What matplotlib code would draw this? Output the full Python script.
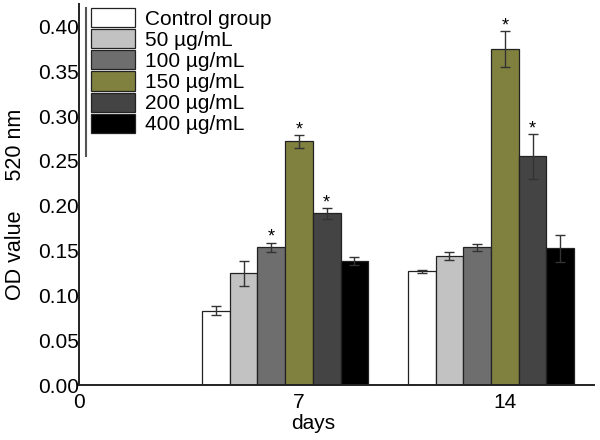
import numpy as np
import matplotlib.pyplot as plt

plt.rcParams['font.family'] = ['Liberation Sans', 'DejaVu Sans']

# dados
days = ['0', '7', '14']
groups = ['Control group', '50 µg/mL', '100 µg/mL', '150 µg/mL', '200 µg/mL', '400 µg/mL']
colors = ['#ffffff', '#c2c2c2', '#6e6e6e', '#80803f', '#444444', '#000000']

# valores para os dias 7 e 14
control = [0.083, 0.1266]
c50 = [0.1247, 0.1438]
c100 = [0.1536, 0.1536]
c150 = [0.2716, 0.3745]
c200 = [0.1913, 0.255]
c400 = [0.1379, 0.1525]
means = [control, c50, c100, c150, c200, c400]

control_err = [0.0047, 0.0012]
c50_err = [0.014, 0.0043]
c100_err = [0.005, 0.0037]
c150_err = [0.007, 0.020]
c200_err = [0.006, 0.025]
c400_err = [0.0045, 0.0153]
errors = [control_err, c50_err, c100_err, c150_err, c200_err, c400_err]

# asteriscos de significância (grupo, dia)
stars = [(2, 0), (3, 0), (4, 0), (3, 1), (4, 1)]

fig = plt.figure(figsize=(6, 4.4), dpi=100)
ax = fig.add_axes([0.132, 0.125, 0.858, 0.866])

w = 0.1345
x = np.array([1, 2])
for i, (m, e) in enumerate(zip(means, errors)):
    pos = x + (i - 2.5) * w
    ax.bar(pos, m, width=w, color=colors[i], edgecolor='#222222', linewidth=0.9,
           label=groups[i], zorder=2)
    ax.errorbar(pos, m, yerr=e, fmt='none', ecolor='#333333', elinewidth=1,
                capsize=3.5, capthick=1, zorder=3)

for g, d in stars:
    pos = x[d] + (g - 2.5) * w
    ax.text(pos, means[g][d] + errors[g][d] + 0.001, '*', ha='center', va='baseline',
            fontsize=13)

ax.set_xlim(0, 2.5)
ax.set_ylim(0, 0.425)
ax.set_yticks(np.arange(0, 0.41, 0.05))
ax.set_yticklabels([f'{v:.2f}' for v in np.arange(0, 0.41, 0.05)], fontsize=15)
ax.set_xticks([0, 1 + 0.5 * w, 2 + 0.5 * w])
ax.set_xticklabels(days, fontsize=15)
ax.tick_params(length=0, pad=0)
ax.tick_params(axis='x', pad=6)

ax.spines['top'].set_visible(False)
ax.spines['right'].set_visible(False)
for s in ['left', 'bottom']:
    ax.spines[s].set_linewidth(1.4)
    ax.spines[s].set_color('#222222')

ax.set_ylabel('OD value     520 nm', fontsize=15.5, labelpad=0)
ax.yaxis.set_label_coords(-0.104, 0.475)
ax.set_xlabel('days', fontsize=15)
ax.xaxis.set_label_coords(0.455, -0.075)

leg = ax.legend(loc='upper left', bbox_to_anchor=(0.023, 0.99), frameon=False,
                fontsize=15, handlelength=2.1, handleheight=1.05,
                labelspacing=0.02, handletextpad=0.5, borderpad=0, borderaxespad=0)
ax.plot([0.0136, 0.0136], [0.6, 0.99], transform=ax.transAxes, color='#555555',
        lw=1.5, clip_on=False)

fig.savefig('out.png', dpi=100)
